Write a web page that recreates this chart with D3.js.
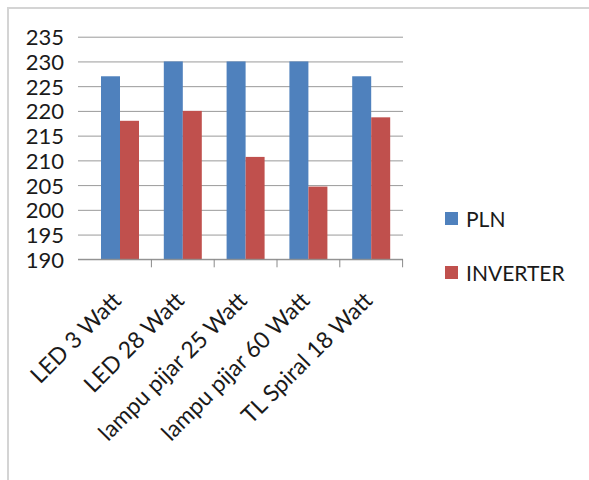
<!DOCTYPE html>
<html><head><meta charset="utf-8">
<script src="https://cdn.jsdelivr.net/npm/d3@7"></script>
<style>
html,body{margin:0;padding:0;background:#fff;}
svg{display:block;}
text{font-family:Lato,"Open Sans",sans-serif;fill:#1a1a1a;}
</style></head>
<body><svg id="c" width="589" height="480"></svg>
<script>
const categories = ["LED 3 Watt","LED 28 Watt","lampu pijar 25 Watt","lampu pijar 60 Watt","TL Spiral 18 Watt"];
const seriesNames = ["PLN","INVERTER"];
const plnValues = [227, 230, 230, 230, 227];
const inverterValues = [218, 220, 210.7, 204.7, 218.7];
const yTicks = [190,195,200,205,210,215,220,225,230,235];
const colors = ["#4F81BD","#C0504D"];

const svg = d3.select("#c");
// chart border
svg.append("rect").attr("x",8).attr("y",8).attr("width",600).attr("height",500)
  .attr("fill","none").attr("stroke","#d4d4d4").attr("stroke-width",2);

const y = d3.scaleLinear().domain([190,235]).range([259.3,36.7]);
const x = d3.scaleBand().domain(categories).range([88.6,402.6]).paddingInner(0.395).paddingOuter(0.1975);
const xs = d3.scaleBand().domain(seriesNames).range([0,x.bandwidth()]);
const gridLeft = 78, gridRight = 403;

// gridlines
const grid = svg.append("g").attr("transform",`translate(${gridRight},0)`)
  .call(d3.axisLeft(y).tickValues(yTicks).tickSize(gridRight-gridLeft).tickFormat(""));
grid.select(".domain").remove();
grid.selectAll("line").attr("stroke","#9a9a9a").attr("stroke-width",1);

// y labels
const yl = svg.append("g").attr("transform","translate(64,0)")
  .call(d3.axisLeft(y).tickValues(yTicks).tickSize(0).tickPadding(0));
yl.select(".domain").remove();
yl.selectAll("text").attr("font-size",22).attr("dy","0.36em").style("font-family","Lato,sans-serif").attr("fill","#1a1a1a");

// bars
const data = categories.map((c,i)=>({c, vals:[plnValues[i],inverterValues[i]]}));
const g = svg.append("g");
data.forEach(d=>{
  d.vals.forEach((v,j)=>{
    g.append("rect")
      .attr("x",x(d.c)+xs(seriesNames[j]))
      .attr("y",y(v))
      .attr("width",xs.bandwidth())
      .attr("height",y(190)-y(v))
      .attr("fill",colors[j]);
  });
});

// category axis line and ticks
const step = x.step();
const x0 = x.range()[0];
svg.append("line").attr("x1",gridLeft).attr("x2",gridRight).attr("y1",y(190)).attr("y2",y(190))
  .attr("stroke","#8a8a8a").attr("stroke-width",1);
for(let i=1;i<=categories.length;i++){
  const tx = x0 + step*i;
  svg.append("line").attr("x1",tx).attr("x2",tx).attr("y1",y(190)).attr("y2",y(190)+8)
    .attr("stroke","#8a8a8a").attr("stroke-width",1);
}

// category labels
categories.forEach(c=>{
  const cx = x(c)+x.bandwidth()/2;
  svg.append("text")
    .attr("transform",`translate(${cx-3},${y(190)+37}) rotate(-45)`)
    .attr("text-anchor","end").attr("font-size",23).attr("dy","0.35em")
    .text(c);
});

// legend
const legY = [219, 273];
seriesNames.forEach((s,i)=>{
  svg.append("rect").attr("x",445).attr("y",legY[i]-7).attr("width",13).attr("height",13).attr("fill",colors[i]);
  svg.append("text").attr("x",466).attr("y",legY[i]).attr("dy","0.36em").attr("font-size",21).text(s);
});
</script></body></html>
